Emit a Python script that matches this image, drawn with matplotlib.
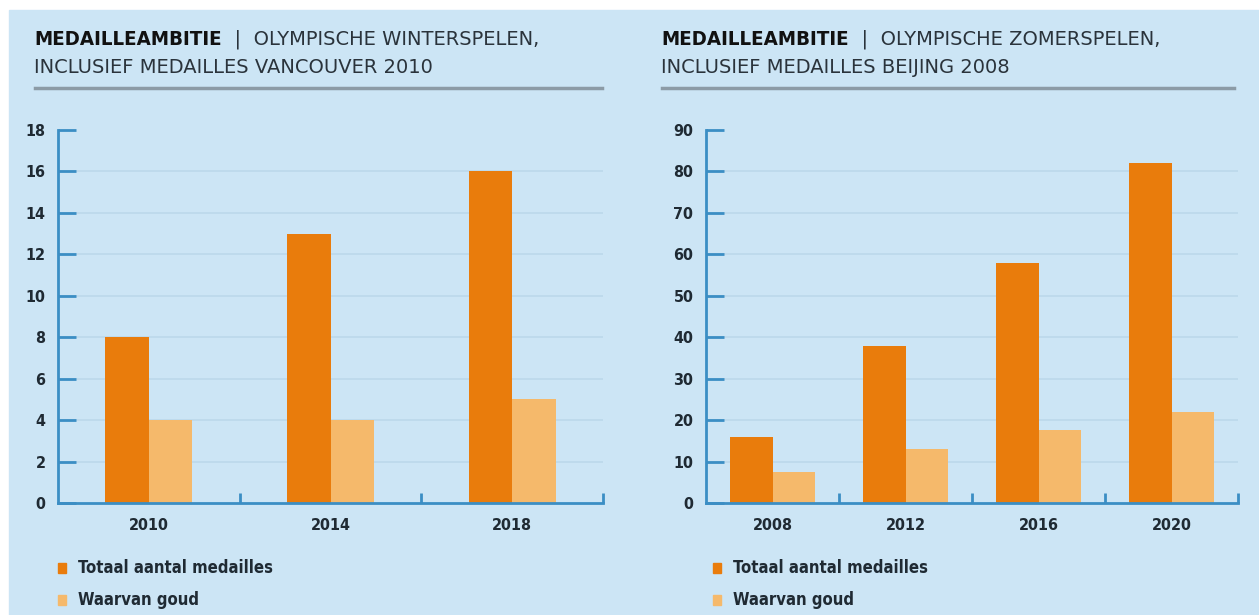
import matplotlib.pyplot as plt
from matplotlib.patches import Rectangle
from matplotlib.lines import Line2D
import numpy as np

# data
winter_years = ['2010', '2014', '2018']
winter_total = [8, 13, 16]
winter_gold = [4, 4, 5]

summer_years = ['2008', '2012', '2016', '2020']
summer_total = [16, 38, 58, 82]
summer_gold = [7.5, 13, 17.5, 22]

legend_labels = ['Totaal aantal medailles', 'Waarvan goud']

ORANGE = '#e97c0c'
LIGHT = '#f5b96b'
BG = '#cce5f5'
AXIS = '#3b8ec4'
GRID = '#bcd8eb'
TEXT = '#1f2a33'

plt.rcParams['font.family'] = ['DejaVu Sans']
plt.rcParams['font.stretch'] = 'condensed'

W, H = 1259, 615
fig = plt.figure(figsize=(W / 100, H / 100), dpi=100)
fig.patch.set_facecolor('white')
fig.add_artist(Rectangle((9 / W, 0), 1 - 9 / W, (H - 10) / H,
                         transform=fig.transFigure, color=BG, zorder=-10))


def px_axes(x0, x1, y_top, y_bot):
    return fig.add_axes([x0 / W, (H - y_bot) / H, (x1 - x0) / W, (y_bot - y_top) / H])


def panel(ax, years, total, gold, ymax, ystep, bw):
    x = np.arange(len(years))
    ax.set_facecolor('none')
    for y in np.arange(ystep, ymax - 0.1, ystep):
        ax.axhline(y, color=GRID, lw=1.2, zorder=0)
    ax.bar(x - bw / 2, total, bw, color=ORANGE, zorder=2)
    ax.bar(x + bw / 2, gold, bw, color=LIGHT, zorder=2)
    ax.set_xlim(-0.5, len(years) - 0.5)
    ax.set_ylim(0, ymax)
    ax.set_yticks(np.arange(0, ymax + 0.1, ystep))
    ax.set_xticks(x)
    ax.set_xticklabels(years)
    ax.set_xticks(np.arange(0.5, len(years), 1), minor=True)
    for s in ['top', 'right']:
        ax.spines[s].set_visible(False)
    for s in ['left', 'bottom']:
        ax.spines[s].set_color(AXIS)
        ax.spines[s].set_linewidth(2)
    ax.tick_params(axis='y', direction='in', length=13, width=2, color=AXIS,
                   labelsize=11.5, labelcolor=TEXT, pad=9)
    ax.tick_params(axis='x', which='major', length=0, labelsize=11.5,
                   labelcolor=TEXT, pad=11)
    ax.tick_params(axis='x', which='minor', direction='in', length=7, width=2, color=AXIS)
    for lab in ax.get_xticklabels() + ax.get_yticklabels():
        lab.set_fontweight('bold')


ax1 = px_axes(58, 603, 130, 503)
panel(ax1, winter_years, winter_total, winter_gold, 18, 2, 0.24)
ax2 = px_axes(706, 1238, 130, 503)
panel(ax2, summer_years, summer_total, summer_gold, 90, 10, 0.32)


def title(x, sub1, sub2):
    t = fig.text(x / W, 1 - 45 / H, 'MEDAILLEAMBITIE', fontsize=14.7, fontweight='bold',
                 color='#111111', va='baseline')
    plt.annotate('  |  ' + sub1, xy=(1, 0), xycoords=t, va='bottom', ha='left',
                 fontsize=14, color='#2a333b', fontstretch='normal')
    fig.text(x / W, 1 - 73 / H, sub2, fontsize=14, color='#2a333b', va='baseline',
             fontstretch='normal')


title(34, 'OLYMPISCHE WINTERSPELEN,', 'INCLUSIEF MEDAILLES VANCOUVER 2010')
title(661, 'OLYMPISCHE ZOMERSPELEN,', 'INCLUSIEF MEDAILLES BEIJING 2008')

for x0, x1 in [(35, 602), (662, 1234)]:
    fig.add_artist(Line2D([x0 / W, x1 / W], [1 - 88 / H, 1 - 88 / H],
                          transform=fig.transFigure, color='#8c9ba6', lw=2.5))

# legends
for lx in [58, 713]:
    for i, (lab, col) in enumerate(zip(legend_labels, [ORANGE, LIGHT])):
        yc = 568 + i * 32
        fig.add_artist(Rectangle((lx / W, 1 - (yc + 5) / H), 8 / W, 10 / H,
                                 transform=fig.transFigure, color=col))
        fig.text((lx + 20) / W, 1 - yc / H, lab, fontsize=12, color=TEXT,
                 va='center', fontweight='bold')

fig.savefig('out.png', dpi=100, facecolor=fig.get_facecolor())
